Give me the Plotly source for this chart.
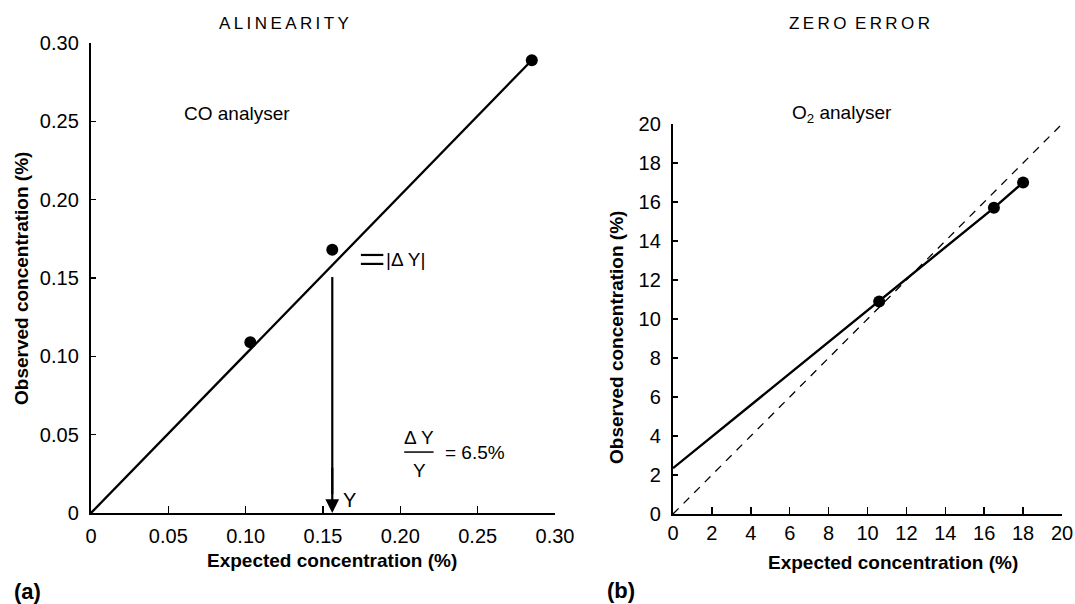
import plotly.graph_objects as go

# ---------------- data ----------------
# Panel (a): CO analyser, alinearity
co_expected = [0.103, 0.156, 0.285]
co_observed = [0.109, 0.168, 0.289]
co_line_x = [0.0, 0.285]
co_line_y = [0.0, 0.289]
arrow_x = 0.156
arrow_top = 0.1506
arrow_bottom = 0.0
dy_bar_x = [0.1745, 0.189]
dy_bar_y = [0.1647, 0.159]
a_xticks = [0, 0.05, 0.10, 0.15, 0.20, 0.25, 0.30]
a_xtext = ["0", "0.05", "0.10", "0.15", "0.20", "0.25", "0.30"]
a_yticks = [0, 0.05, 0.10, 0.15, 0.20, 0.25, 0.30]
a_ytext = ["0", "0.05", "0.10", "0.15", "0.20", "0.25", "0.30"]

# Panel (b): O2 analyser, zero error
o2_expected = [10.6, 16.5, 18.0]
o2_observed = [10.9, 15.7, 17.0]
o2_line_x = [0.0, 10.6, 16.5, 18.0]
o2_line_y = [2.35, 10.9, 15.7, 17.0]
ident_x = [0, 20]
ident_y = [0, 20]
b_ticks = [0, 2, 4, 6, 8, 10, 12, 14, 16, 18, 20]
b_text = [str(v) for v in b_ticks]

FONT = "Liberation Sans, Arial, Helvetica, sans-serif"
W, H = 1075, 604


def px_x(p):
    return p / W


def px_y(p):
    return 1 - p / H


fig = go.Figure()

# panel a
fig.add_trace(go.Scatter(x=co_line_x, y=co_line_y, mode="lines",
                         line=dict(color="black", width=2.3),
                         xaxis="x", yaxis="y", cliponaxis=False))
fig.add_trace(go.Scatter(x=co_expected, y=co_observed, mode="markers",
                         marker=dict(color="black", size=12),
                         xaxis="x", yaxis="y", cliponaxis=False))
fig.add_trace(go.Scatter(x=[arrow_x, arrow_x], y=[arrow_top, 0.012], mode="lines",
                         line=dict(color="black", width=2.2),
                         xaxis="x", yaxis="y", cliponaxis=False))
for yy in dy_bar_y:
    fig.add_trace(go.Scatter(x=dy_bar_x, y=[yy, yy], mode="lines",
                             line=dict(color="black", width=2.2),
                             xaxis="x", yaxis="y", cliponaxis=False))

# panel b
fig.add_trace(go.Scatter(x=ident_x, y=ident_y, mode="lines",
                         line=dict(color="black", width=1.3, dash="8px,7px"),
                         xaxis="x2", yaxis="y2", cliponaxis=False))
fig.add_trace(go.Scatter(x=o2_line_x, y=o2_line_y, mode="lines",
                         line=dict(color="black", width=2.4),
                         xaxis="x2", yaxis="y2", cliponaxis=False))
fig.add_trace(go.Scatter(x=o2_expected, y=o2_observed, mode="markers",
                         marker=dict(color="black", size=12),
                         xaxis="x2", yaxis="y2", cliponaxis=False))

axis_common = dict(showline=True, linecolor="black", linewidth=2.2, mirror=False,
                   showgrid=False, zeroline=False, ticks="inside", tickcolor="black",
                   tickwidth=1.5, tickfont=dict(family=FONT, size=20, color="black"),
                   tickmode="array", fixedrange=True, automargin=False)

fig.update_layout(
    width=W, height=H,
    margin=dict(l=0, r=0, t=0, b=0, pad=0, autoexpand=False),
    paper_bgcolor="white", plot_bgcolor="white", showlegend=False,
    xaxis=dict(axis_common, domain=[px_x(91), px_x(555)], range=[0, 0.30],
               tickvals=a_xticks, ticktext=a_xtext, ticklen=7, anchor="y",
               ticklabelstandoff=4),
    yaxis=dict(axis_common, domain=[px_y(513), px_y(43)], range=[0, 0.30],
               tickvals=a_yticks, ticktext=a_ytext, ticklen=5, anchor="x",
               ticklabelstandoff=6),
    xaxis2=dict(axis_common, domain=[px_x(673), px_x(1062)], range=[0, 20],
                tickvals=b_ticks, ticktext=b_text, ticklen=7, anchor="y2",
                ticklabelstandoff=0),
    yaxis2=dict(axis_common, domain=[px_y(514), px_y(124)], range=[0, 20],
                tickvals=b_ticks, ticktext=b_text, ticklen=5, anchor="x2",
                ticklabelstandoff=6),
)

ann = []


def txt(text, x, y, size=18, bold=False, xanchor="center", yanchor="middle",
        ref="paper", xref=None, yref=None, angle=0):
    t = f"<b>{text}</b>" if bold else text
    ann.append(dict(text=t, x=x, y=y, xref=xref or ref, yref=yref or ref,
                    showarrow=False, xanchor=xanchor, yanchor=yanchor,
                    textangle=angle,
                    font=dict(family=FONT, size=size, color="black")))


ts = "\u2009"
txt(ts.join("ALINEARITY"), px_x(284), px_y(23), size=17)
txt(ts.join("ZERO") + "\u2002" + ts.join("ERROR"), px_x(859), px_y(24), size=17)
txt("CO analyser", px_x(182), px_y(113), size=19, xanchor="left")
txt("O<sub>2</sub> analyser", px_x(790), px_y(114), size=19, xanchor="left")
txt("Expected concentration (%)", px_x(332), px_y(560), size=19, bold=True)
txt("Expected concentration (%)", px_x(893), px_y(562), size=19, bold=True)
txt("Observed concentration (%)", px_x(21), px_y(279), size=19, bold=True, angle=-90)
txt("Observed concentration (%)", px_x(616), px_y(338), size=19, bold=True, angle=-90)
txt("(a)", px_x(27), px_y(591), size=22, bold=True)
txt("(b)", px_x(621), px_y(590), size=22, bold=True)

# panel a text annotations in data coordinates
txt("|\u0394 Y|", 0.1895, 0.1615, size=19, xanchor="left", xref="x", yref="y")
txt("Y", 0.1615, 0.0083, size=20, xanchor="left", xref="x", yref="y")
txt("\u0394 Y", 0.2121, 0.0479, size=19, xref="x", yref="y")
txt("Y", 0.2121, 0.0274, size=19, xref="x", yref="y")
txt("= 6.5%", 0.2275, 0.0389, size=19, xanchor="left", xref="x", yref="y")

# arrow head (tip at the x axis)
ann.append(dict(x=arrow_x, y=arrow_bottom, ax=arrow_x, ay=0.03, xref="x", yref="y",
                axref="x", ayref="y", showarrow=True, arrowhead=2, arrowsize=1.25,
                arrowwidth=2.2, arrowcolor="black", text=""))

fig.update_layout(annotations=ann)

# fraction bar
fig.add_shape(type="line", x0=0.2025, x1=0.2215, y0=0.0389, y1=0.0389,
              xref="x", yref="y", line=dict(color="black", width=1.5))

fig.write_html("out.html", config={"displayModeBar": False, "staticPlot": True},
               post_script="document.body.style.margin='0';document.body.style.padding='0';")
